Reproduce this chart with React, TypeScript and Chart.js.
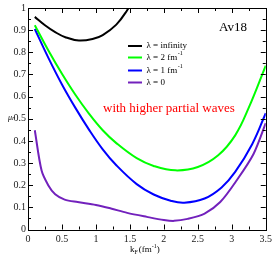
import React, { useEffect, useRef } from 'react';
import { Chart, registerables } from 'chart.js';

Chart.register(...registerables);

// λ = infinity
const kInf = [0.1, 0.25, 0.4, 0.55, 0.75, 0.95, 1.1, 1.3, 1.46, 1.55];
const muInf = [0.96, 0.922, 0.891, 0.868, 0.853, 0.86, 0.878, 0.925, 0.99, 1.04];

// λ = 2 fm^-1
const kL2 = [0.1, 0.3, 0.5, 0.7, 0.9, 1.1, 1.3, 1.6, 1.85, 2.17, 2.5, 2.8, 3.05, 3.25, 3.5];
const muL2 = [0.922, 0.808, 0.703, 0.607, 0.522, 0.448, 0.39, 0.322, 0.287, 0.267, 0.282, 0.335, 0.425, 0.55, 0.74];

// λ = 1 fm^-1
const kL1 = [0.1, 0.3, 0.5, 0.7, 0.9, 1.1, 1.3, 1.6, 1.85, 2.1, 2.3, 2.6, 2.85, 3.05, 3.3, 3.5];
const muL1 = [0.905, 0.775, 0.655, 0.548, 0.45, 0.362, 0.29, 0.205, 0.158, 0.13, 0.121, 0.14, 0.19, 0.26, 0.385, 0.525];

// λ = 0
const kL0 = [0.1, 0.2, 0.3, 0.4, 0.54, 0.73, 1.0, 1.22, 1.46, 1.75, 2.0, 2.15, 2.35, 2.6, 2.83, 3.07, 3.32, 3.5];
const muL0 = [0.448, 0.266, 0.199, 0.159, 0.135, 0.124, 0.111, 0.095, 0.075, 0.057, 0.043, 0.039, 0.048, 0.072, 0.124, 0.221, 0.341, 0.48];

const SERIF = '"Liberation Serif", "DejaVu Serif", serif';

const legendItems = [
  { color: '#000000', text: 'λ = infinity', sup: '' },
  { color: '#00ff00', text: 'λ = 2 fm', sup: '-1' },
  { color: '#0000ff', text: 'λ = 1 fm', sup: '-1' },
  { color: '#7221bc', text: 'λ = 0', sup: '' },
];

const toPts = (xs: number[], ys: number[]) => xs.map((x, i) => ({ x, y: ys[i] }));

const framePlugin = {
  id: 'framePlugin',
  afterDatasetsDraw(chart: any) {
    const ctx = chart.ctx as CanvasRenderingContext2D;
    const xs = chart.scales.x;
    const ys = chart.scales.y;
    const { left, right, top, bottom } = chart.chartArea;
    ctx.save();
    ctx.strokeStyle = '#000';
    ctx.lineWidth = 1;
    ctx.beginPath();
    for (let i = 0; i <= 20; i++) {
      const v = i * 0.05;
      const py = Math.round(ys.getPixelForValue(v)) + 0.5;
      const len = i % 2 === 0 ? 5 : 3;
      ctx.moveTo(left, py);
      ctx.lineTo(left + len, py);
      ctx.moveTo(right, py);
      ctx.lineTo(right - len, py);
    }
    for (let i = 0; i <= 14; i++) {
      const v = i * 0.25;
      const px = Math.round(xs.getPixelForValue(v)) + 0.5;
      const len = i % 2 === 0 ? 5 : 3;
      ctx.moveTo(px, bottom);
      ctx.lineTo(px, bottom - len);
      ctx.moveTo(px, top);
      ctx.lineTo(px, top + len);
    }
    ctx.stroke();
    ctx.strokeRect(Math.round(left) + 0.5, Math.round(top) + 0.5, Math.round(right - left), Math.round(bottom - top));

    ctx.textBaseline = 'middle';
    ctx.textAlign = 'left';
    const ly = [46, 57.5, 70.5, 82.5];
    legendItems.forEach((it, i) => {
      ctx.strokeStyle = it.color;
      ctx.lineWidth = 2;
      ctx.beginPath();
      ctx.moveTo(128, ly[i]);
      ctx.lineTo(142, ly[i]);
      ctx.stroke();
      ctx.fillStyle = '#000';
      ctx.font = `9px ${SERIF}`;
      ctx.fillText(it.text, 146.5, ly[i]);
      if (it.sup) {
        const w = ctx.measureText(it.text).width;
        ctx.font = `6px ${SERIF}`;
        ctx.fillText(it.sup, 146.5 + w + 0.5, ly[i] - 4);
      }
    });

    ctx.fillStyle = '#000';
    ctx.font = `13px ${SERIF}`;
    ctx.fillText('Av18', 219, 28);

    ctx.fillStyle = '#ff0000';
    ctx.font = `13px ${SERIF}`;
    ctx.fillText('with higher partial waves', 103, 108.5);

    ctx.fillStyle = '#000';
    let x0 = 130;
    const ty = 250;
    ctx.font = `9px ${SERIF}`;
    ctx.fillText('k', x0, ty);
    x0 += ctx.measureText('k').width;
    ctx.font = `6px ${SERIF}`;
    ctx.fillText('F', x0, ty + 2);
    x0 += ctx.measureText('F').width + 1;
    ctx.font = `9px ${SERIF}`;
    ctx.fillText('(fm', x0, ty);
    x0 += ctx.measureText('(fm').width;
    ctx.font = `6px ${SERIF}`;
    ctx.fillText('-1', x0, ty - 4);
    x0 += ctx.measureText('-1').width;
    ctx.font = `9px ${SERIF}`;
    ctx.fillText(')', x0, ty);

    ctx.font = `italic 8px ${SERIF}`;
    ctx.fillText('μ', 8, 117.5);
    const mw = ctx.measureText('μ').width;
    ctx.font = `italic 5px ${SERIF}`;
    ctx.fillText('F', 8 + mw, 119);
    ctx.restore();
  },
};

export default function App() {
  const ref = useRef<HTMLCanvasElement | null>(null);
  useEffect(() => {
    if (!ref.current) return;
    const mk = (label: string, xs: number[], ys: number[], color: string, tension: number) => ({
      label,
      data: toPts(xs, ys),
      borderColor: color,
      backgroundColor: color,
      borderWidth: 2,
      pointRadius: 0,
      tension,
      fill: false,
    });
    const chart = new Chart(ref.current, {
      type: 'line',
      data: {
        datasets: [
          mk('λ = infinity', kInf, muInf, '#000000', 0.4),
          mk('λ = 2 fm-1', kL2, muL2, '#00ff00', 0.4),
          mk('λ = 1 fm-1', kL1, muL1, '#0000ff', 0.4),
          mk('λ = 0', kL0, muL0, '#7221bc', 0.3),
        ],
      },
      options: {
        responsive: false,
        animation: false,
        layout: { padding: { left: 0, right: 9, top: 6, bottom: 0 } },
        plugins: { legend: { display: false }, tooltip: { enabled: false } },
        scales: {
          x: {
            type: 'linear',
            min: 0,
            max: 3.5,
            grid: { display: false, drawTicks: false },
            border: { display: false },
            ticks: {
              stepSize: 0.5,
              padding: 4,
              color: '#222',
              font: { family: SERIF, size: 10 },
              maxRotation: 0,
              callback: (v: any) => String(Math.round(Number(v) * 10) / 10),
            },
            afterFit: (s: any) => {
              s.height = 29.5;
            },
          },
          y: {
            type: 'linear',
            min: 0,
            max: 1,
            grid: { display: false, drawTicks: false },
            border: { display: false },
            ticks: {
              stepSize: 0.1,
              padding: 2,
              color: '#222',
              font: { family: SERIF, size: 10 },
              callback: (v: any) => String(Math.round(Number(v) * 10) / 10),
            },
            afterFit: (s: any) => {
              s.width = 28;
            },
          },
        },
      },
      plugins: [framePlugin],
    });
    return () => chart.destroy();
  }, []);
  return (
    <div style={{ position: 'fixed', left: 0, top: 0, width: 276, height: 259, background: '#fff' }}>
      <canvas ref={ref} width={276} height={259} />
    </div>
  );
}
